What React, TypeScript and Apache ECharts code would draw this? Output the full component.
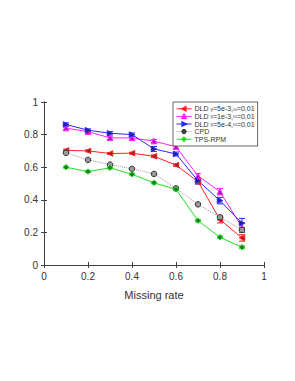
import React, { useEffect, useRef } from "react";
import * as echarts from "echarts";

const missingRates = [0.1, 0.2, 0.3, 0.4, 0.5, 0.6, 0.7, 0.8, 0.9];
const xTicks = [0, 0.2, 0.4, 0.6, 0.8, 1];

const dld1 = [0.703, 0.700, 0.684, 0.686, 0.667, 0.613, 0.512, 0.278, 0.166];
const dld2 = [0.840, 0.818, 0.780, 0.780, 0.760, 0.725, 0.546, 0.450, 0.231];
const dld3 = [0.862, 0.827, 0.808, 0.800, 0.712, 0.681, 0.517, 0.395, 0.256];
const cpd = [0.688, 0.645, 0.616, 0.590, 0.559, 0.470, 0.372, 0.293, 0.215];
const tps = [0.600, 0.573, 0.596, 0.557, 0.504, 0.464, 0.272, 0.170, 0.109];

const dld1Err = [0.008, 0.006, 0.006, 0.006, 0.008, 0.008, 0.015, 0.02, 0.02];
const dld2Err = [0.008, 0.008, 0.01, 0.008, 0.01, 0.01, 0.015, 0.02, 0.03];
const dld3Err = [0.01, 0.008, 0.01, 0.01, 0.015, 0.012, 0.02, 0.02, 0.03];
const cpdErr = [0.006, 0.006, 0.006, 0.006, 0.006, 0.008, 0.008, 0.01, 0.015];
const tpsErr = [0.006, 0.006, 0.006, 0.006, 0.006, 0.008, 0.008, 0.008, 0.008];

const names = [
  "DLD \u03b3=5e-3,\u03c9=0.01",
  "DLD \u03b3=1e-3,\u03c9=0.01",
  "DLD \u03b3=5e-4,\u03c9=0.01",
  "CPD",
  "TPS-RPM",
];

export default function App() {
  const ref = useRef<HTMLDivElement>(null);
  useEffect(() => {
    document.body.style.margin = "0";
    const chart = echarts.init(ref.current!, null, { renderer: "svg" });
    const font = "Liberation Sans, Arial, sans-serif";
    const axisColor = "#404040";
    const textColor = "#333333";

    const mk = (
      name: string,
      vals: number[],
      color: string,
      fill: string,
      symbol: string,
      rotate: number,
      lineType: any = "solid",
      lineColor?: string
    ) => ({
      name,
      type: "line",
      data: missingRates.map((x, i) => [x, vals[i]]),
      symbol,
      symbolRotate: rotate,
      symbolSize: 5.5,
      lineStyle: { color: lineColor || color, width: 1, type: lineType },
      itemStyle: { color: fill, borderColor: color, borderWidth: 1 },
      z: 3,
    });

    const errSeries = (vals: number[], errs: number[], color: string) => ({
      type: "custom",
      name: "err",
      silent: true,
      z: 2,
      data: missingRates.map((x, i) => [x, vals[i] - errs[i], vals[i] + errs[i]]),
      renderItem: (params: any, api: any) => {
        const lo = api.coord([api.value(0), api.value(1)]);
        const hi = api.coord([api.value(0), api.value(2)]);
        const w = 3;
        const st = { stroke: color, lineWidth: 1 };
        return {
          type: "group",
          children: [
            { type: "line", shape: { x1: lo[0], y1: lo[1], x2: hi[0], y2: hi[1] }, style: st },
            { type: "line", shape: { x1: lo[0] - w, y1: lo[1], x2: lo[0] + w, y2: lo[1] }, style: st },
            { type: "line", shape: { x1: hi[0] - w, y1: hi[1], x2: hi[0] + w, y2: hi[1] }, style: st },
          ],
        };
      },
    });

    chart.setOption({
      animation: false,
      backgroundColor: "#fff",
      textStyle: { fontFamily: font },
      grid: { left: 44, right: 31, top: 102, bottom: 116 },
      legend: {
        data: names,
        orient: "vertical",
        left: 173,
        top: 102,
        itemWidth: 15,
        itemHeight: 4,
        itemGap: 0,
        padding: [3, 3, 3, 3],
        backgroundColor: "#fff",
        borderColor: axisColor,
        borderWidth: 0.8,
        borderRadius: 0,
        lineStyle: { width: 1 },
        textStyle: {
          fontSize: 7,
          lineHeight: 7.6,
          color: textColor,
          fontFamily: font,
          padding: [0, 0, 0, -2],
          rich: { s: { fontSize: 5, lineHeight: 7.6, color: textColor, fontFamily: font } },
        },
        formatter: (n: string) => n.replace("\u03b3", "{s|\u03b3}").replace("\u03c9", "{s|\u03c9}"),
      },
      xAxis: [
        {
          type: "value",
          min: 0,
          max: 1,
          interval: 0.2,
          name: "Missing rate",
          nameLocation: "middle",
          nameGap: 24,
          nameTextStyle: { fontSize: 11, color: textColor },
          axisLine: { lineStyle: { color: axisColor } },
          axisTick: { inside: true, length: 3, lineStyle: { color: axisColor } },
          axisLabel: {
            fontSize: 10,
            color: textColor,
            margin: 6,
            formatter: (v: number) => (xTicks.includes(Math.round(v * 10) / 10) ? String(Math.round(v * 10) / 10) : ""),
          },
          splitLine: { show: false },
        },
        {
          type: "value",
          position: "top",
          min: 0,
          max: 1,
          interval: 0.2,
          axisLine: { show: true, lineStyle: { color: axisColor } },
          axisTick: { inside: true, length: 3, lineStyle: { color: axisColor } },
          axisLabel: { show: false },
          splitLine: { show: false },
        },
      ],
      yAxis: [
        {
          type: "value",
          min: 0,
          max: 1,
          interval: 0.2,
          axisLine: { show: true, lineStyle: { color: axisColor } },
          axisTick: { show: true, inside: true, length: 3, lineStyle: { color: axisColor } },
          axisLabel: { fontSize: 10, color: textColor, margin: 6 },
          splitLine: { show: false },
        },
        {
          type: "value",
          position: "right",
          min: 0,
          max: 1,
          interval: 0.2,
          axisLine: { show: true, lineStyle: { color: axisColor } },
          axisTick: { show: true, inside: true, length: 3, lineStyle: { color: axisColor } },
          axisLabel: { show: false },
          splitLine: { show: false },
        },
      ],
      series: [
        errSeries(dld1, dld1Err, "#ff2020"),
        errSeries(dld2, dld2Err, "#ff20ff"),
        errSeries(dld3, dld3Err, "#2828ff"),
        errSeries(cpd, cpdErr, "#555555"),
        errSeries(tps, tpsErr, "#22dd22"),
        mk(names[0], dld1, "#ff2020", "#a02020", "triangle", 90),
        mk(names[1], dld2, "#ff20ff", "#a020a0", "triangle", 0),
        mk(names[2], dld3, "#2828ff", "#202090", "triangle", -90),
        mk(names[3], cpd, "#333333", "#9a9a9a", "circle", 0, "dotted", "#999999"),
        mk(names[4], tps, "#22dd22", "#1f7a1f", "diamond", 0),
      ],
    });
    return () => chart.dispose();
  }, []);
  return <div ref={ref} style={{ width: 295, height: 381 }} />;
}
